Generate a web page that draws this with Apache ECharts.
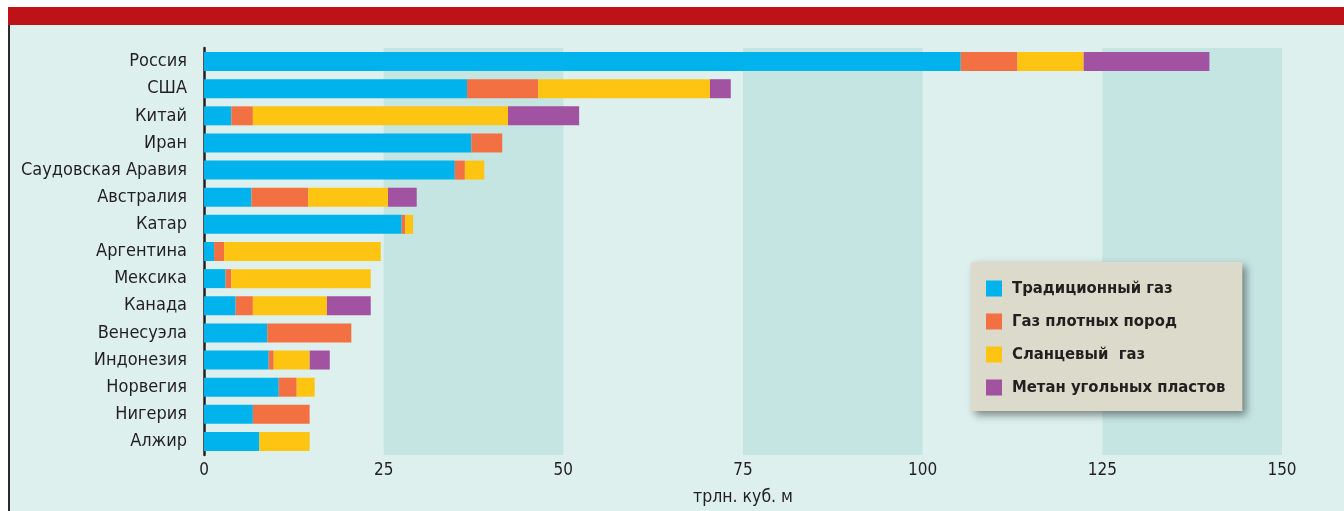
<!DOCTYPE html>
<html>
<head>
<meta charset="utf-8">
<script src="https://cdn.jsdelivr.net/npm/echarts@6/dist/echarts.min.js"></script>
<style>
  html, body { margin: 0; padding: 0; background: #fff; }
  #frame {
    position: absolute; left: 8px; top: 7px; width: 1336px; height: 504px;
    background: #ddf0ee; border-left: 2px solid #2b2b2b; box-sizing: border-box;
  }
  #topbar { position: absolute; left: 8px; top: 7px; width: 1336px; height: 18px; background: #bd1218; }
  #chart-root { position: absolute; left: 0; top: 0; width: 1344px; height: 511px; }
</style>
</head>
<body>
<div id="frame"></div>
<div id="topbar"></div>
<div id="chart-root"></div>
<script>
// страны сверху вниз
const countries = ["Россия", "США", "Китай", "Иран", "Саудовская Аравия", "Австралия", "Катар",
  "Аргентина", "Мексика", "Канада", "Венесуэла", "Индонезия", "Норвегия", "Нигерия", "Алжир"];

// трлн. куб. м
const traditional = [105.3, 36.6, 3.8, 37.2, 34.9, 6.6, 27.5, 1.4, 3.0, 4.4, 8.8, 9.0, 10.4, 6.8, 7.7];
const tight       = [7.9, 9.9, 3.0, 4.3, 1.4, 7.9, 0.5, 1.4, 0.8, 2.4, 11.7, 0.7, 2.5, 7.9, 0];
const shale       = [9.2, 23.9, 35.5, 0, 2.7, 11.1, 1.1, 21.8, 19.4, 10.3, 0, 5.0, 2.5, 0, 7.0];
const coalbed     = [17.5, 2.9, 9.9, 0, 0, 4.0, 0, 0, 0, 6.1, 0, 2.8, 0, 0, 0];

const seriesNames = ["Традиционный газ", "Газ плотных пород", "Сланцевый  газ", "Метан угольных пластов"];
const seriesColors = ["#00b3ec", "#f37043", "#fec412", "#a152a0"];

const font = "'Liberation Sans Narrow', 'DejaVu Sans Condensed', 'Liberation Sans', sans-serif";

let chart = echarts.init(document.getElementById("chart-root"));

let option = {
  animation: false,
  textStyle: { fontFamily: font },
  grid: { left: 204, right: 62, top: 48, bottom: 56 },
  legend: {
    orient: "vertical",
    left: 971,
    top: 262,
    backgroundColor: "#dcdaca",
    padding: [18, 17, 15, 15],
    itemWidth: 16,
    itemHeight: 16,
    itemGap: 16,
    icon: "rect",
    shadowColor: "rgba(0,0,0,0.45)",
    shadowBlur: 8,
    shadowOffsetX: 4,
    shadowOffsetY: 4,
    textStyle: {
      fontFamily: font,
      fontWeight: "bold",
      fontSize: 16.5,
      color: "#231f20",
      padding: [0, 0, 0, 5]
    },
    data: seriesNames
  },
  xAxis: {
    type: "value",
    min: 0,
    max: 150,
    interval: 25,
    name: "трлн. куб. м",
    nameLocation: "center",
    nameGap: 33,
    nameTextStyle: { fontSize: 17.5, color: "#231f20", fontFamily: font },
    axisLine: { show: false },
    axisTick: { show: false },
    axisLabel: { fontSize: 17, color: "#231f20", margin: 7, fontFamily: font },
    splitLine: { show: false },
    splitArea: {
      show: true,
      areaStyle: { color: ["rgba(0,0,0,0)", "#c5e5e3"] }
    }
  },
  yAxis: {
    type: "category",
    inverse: true,
    data: countries,
    axisLine: { lineStyle: { color: "#231f20", width: 2.5 } },
    axisTick: { length: 9, lineStyle: { color: "#231f20", width: 2.5 } },
    axisLabel: { fontSize: 18, color: "#231f20", margin: 17, fontFamily: font }
  },
  series: [traditional, tight, shale, coalbed].map((vals, i) => ({
    name: seriesNames[i],
    type: "bar",
    stack: "gas",
    barWidth: "70%",
    itemStyle: { color: seriesColors[i] },
    data: vals
  }))
};

chart.setOption(option);
</script>
</body>
</html>
